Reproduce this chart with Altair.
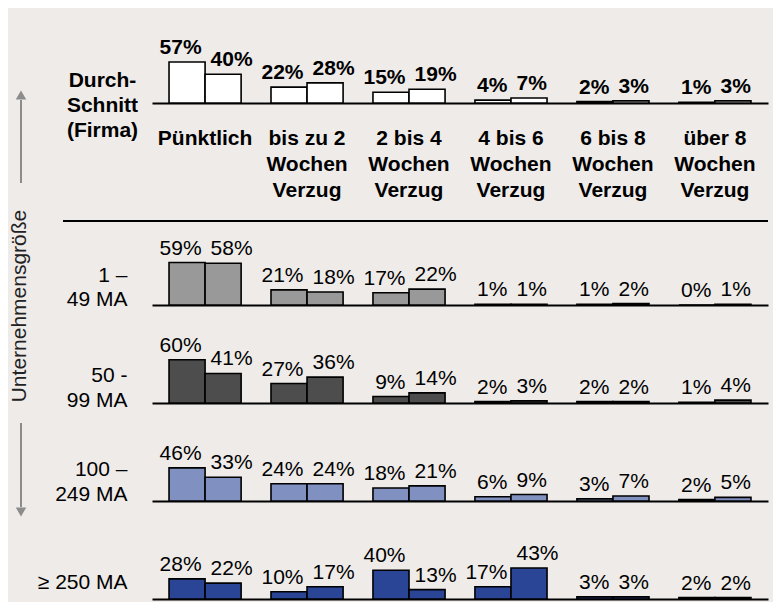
import altair as alt
import pandas as pd

# ---------------- data ----------------
kategorien = [
    "Pünktlich",
    "bis zu 2 Wochen Verzug",
    "2 bis 4 Wochen Verzug",
    "4 bis 6 Wochen Verzug",
    "6 bis 8 Wochen Verzug",
    "über 8 Wochen Verzug",
]
serien = ["Serie 1", "Serie 2"]
gruppen = ["Durchschnitt (Firma)", "1 – 49 MA", "50 - 99 MA", "100 – 249 MA", "≥ 250 MA"]
gruppen_label = [
    ["Durch-", "Schnitt", "(Firma)"],
    ["1 –", "49 MA"],
    ["50 -", "99 MA"],
    ["100 –", "249 MA"],
    ["≥ 250 MA"],
]

durchschnitt_s1 = [57, 22, 15, 4, 2, 1]
durchschnitt_s2 = [40, 28, 19, 7, 3, 3]
ma_1_49_s1 = [59, 21, 17, 1, 1, 0]
ma_1_49_s2 = [58, 18, 22, 1, 2, 1]
ma_50_99_s1 = [60, 27, 9, 2, 2, 1]
ma_50_99_s2 = [41, 36, 14, 3, 2, 4]
ma_100_249_s1 = [46, 24, 18, 6, 3, 2]
ma_100_249_s2 = [33, 24, 21, 9, 7, 5]
ma_250_s1 = [28, 10, 40, 17, 3, 2]
ma_250_s2 = [22, 17, 13, 43, 3, 2]

werte = [
    (durchschnitt_s1, durchschnitt_s2),
    (ma_1_49_s1, ma_1_49_s2),
    (ma_50_99_s1, ma_50_99_s2),
    (ma_100_249_s1, ma_100_249_s2),
    (ma_250_s1, ma_250_s2),
]

rows = []
for g, (s1, s2) in zip(gruppen, werte):
    for k, a, b in zip(kategorien, s1, s2):
        rows.append({"Gruppe": g, "Kategorie": k, "Serie": serien[0], "Wert": a})
        rows.append({"Gruppe": g, "Kategorie": k, "Serie": serien[1], "Wert": b})
df = pd.DataFrame(rows)

# ---------------- style ----------------
FONT = "Liberation Sans, Arial, Helvetica, sans-serif"
BG = "#EEEBE9"
FILLS = ["#FFFFFF", "#999999", "#4D4D4D", "#8090C0", "#2A4596"]
HOEHEN = [60, 164, 60, 60, 60]
PX = 0.72          # pixel per percent
BREITE = 616
TITLE_X = [-50, -25, -25, -25, -25]
TITLE_Y = [43, 140.7, 38.7, 34, 49.3]
TITLE_LH = [25, 24, 25, 25, 25]
TITLE_ALIGN = ["center", "right", "right", "right", "right"]
# label placement: series 1 right-aligned left of the group centre,
# series 2 left-aligned right of it
LABEL_ALIGN = ["right", "left"]
LABEL_DX = [14.5, -12.5]


def deko():
    one = pd.DataFrame({"d": [0]})
    sep = alt.Chart(one).mark_rule(color="black", strokeWidth=2).encode(
        x=alt.value(-89), x2=alt.value(BREITE), y=alt.value(80)
    )
    up = alt.Chart(one).mark_rule(color="#8C8C8C", strokeWidth=2).encode(
        x=alt.value(-131), y=alt.value(-41), y2=alt.value(42)
    )
    down = alt.Chart(one).mark_rule(color="#8C8C8C", strokeWidth=2).encode(
        x=alt.value(-131), y=alt.value(282), y2=alt.value(366)
    )
    up_head = alt.Chart(one).mark_point(
        shape="triangle-up", filled=True, color="#8C8C8C", size=110, opacity=1
    ).encode(x=alt.value(-131), y=alt.value(-46))
    down_head = alt.Chart(one).mark_point(
        shape="triangle-down", filled=True, color="#8C8C8C", size=110, opacity=1
    ).encode(x=alt.value(-131), y=alt.value(371))
    txt = alt.Chart(one).mark_text(
        text="Unternehmensgröße", angle=270, fontSize=21, font=FONT,
        color="#222222", align="center", baseline="middle"
    ).encode(x=alt.value(-132), y=alt.value(165))
    return [sep, up, down, up_head, down_head, txt]


def panel(i):
    g = gruppen[i]
    H = HOEHEN[i]
    sub = df[df["Gruppe"] == g]
    weight = "bold" if i == 0 else "normal"

    if i == 0:
        xaxis = alt.Axis(
            title=None, labelAngle=0, labelFont=FONT, labelFontSize=21,
            labelFontWeight="bold", labelColor="black", labelBaseline="alphabetic",
            labelPadding=41, labelLineHeight=26, labelOverlap=False, labelLimit=0,
            labelExpr="split(replace(datum.label, ' Wochen ', '|Wochen|'), '|')",
            ticks=False, tickSize=0, domain=True, domainColor="black",
            domainWidth=2, grid=False,
        )
    else:
        xaxis = alt.Axis(
            title=None, labels=False, ticks=False, tickSize=0, domain=True,
            domainColor="black", domainWidth=2, grid=False,
        )
    yaxis = alt.Axis(
        title=gruppen_label[i], titleAngle=0, titleAlign=TITLE_ALIGN[i],
        titleBaseline="alphabetic", titleX=TITLE_X[i], titleY=TITLE_Y[i],
        titleFont=FONT, titleFontSize=21, titleFontWeight=weight,
        titleColor="black", titleLineHeight=TITLE_LH[i],
        labels=False, ticks=False, domain=False, grid=False,
    )
    x = alt.X(
        "Kategorie:N", sort=kategorien,
        scale=alt.Scale(paddingInner=0.293, paddingOuter=0.167), axis=xaxis,
    )
    xo = alt.XOffset(
        "Serie:N", sort=serien, scale=alt.Scale(paddingInner=0, paddingOuter=0)
    )
    y = alt.Y(
        "Wert:Q", scale=alt.Scale(domain=[0, H / PX], nice=False, zero=True),
        axis=yaxis,
    )
    base = alt.Chart(sub)
    bars = base.mark_bar(fill=FILLS[i], stroke="black", strokeWidth=1.6).encode(
        x=x, xOffset=xo, y=y
    )
    texts = []
    for s, al, dx in zip(serien, LABEL_ALIGN, LABEL_DX):
        texts.append(
            base.transform_filter(alt.datum.Serie == s)
            .transform_calculate(L="datum.Wert + '%'")
            .mark_text(
                dx=dx, dy=-8, baseline="alphabetic", align=al,
                fontSize=21, fontWeight=weight, font=FONT, color="black",
            )
            .encode(x=x, xOffset=xo, y=y, text="L:N")
        )
    layers = [bars] + texts
    if i == 1:
        layers += deko()
    return alt.layer(*layers).properties(width=BREITE, height=H)


chart = (
    alt.vconcat(*[panel(i) for i in range(5)], spacing=38, bounds="flush")
    .resolve_scale(x="independent", y="independent")
    .properties(
        background=BG,
        padding={"left": 1, "top": 28, "right": 4, "bottom": 2},
    )
    .configure_view(strokeWidth=0)
)

chart.save("out.html", embed_options={"renderer": "svg", "actions": False})
